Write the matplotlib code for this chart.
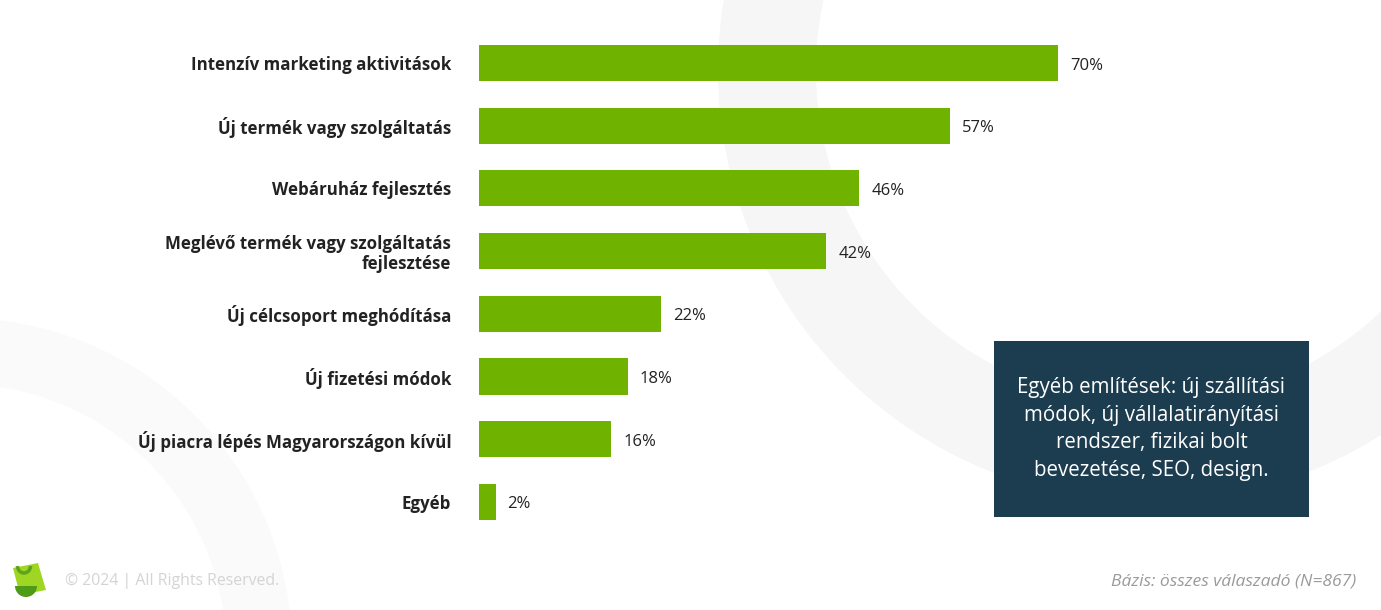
import matplotlib
matplotlib.use("Agg")
import matplotlib.pyplot as plt
from matplotlib.patches import Wedge, Rectangle, Polygon, Arc

# data
categories = [
    "Intenzív marketing aktivitások",
    "Új termék vagy szolgáltatás",
    "Webáruház fejlesztés",
    "Meglévő termék vagy szolgáltatás\nfejlesztése",
    "Új célcsoport meghódítása",
    "Új fizetési módok",
    "Új piacra lépés Magyarországon kívül",
    "Egyéb",
]
values = [70, 57, 46, 42, 22, 18, 16, 2]
box_text = "Egyéb említések: új szállítási\nmódok, új vállalatirányítási\nrendszer, fizikai bolt\nbevezetése, SEO, design."
footer_left = "© 2024 | All Rights Reserved."
footer_right = "Bázis: összes válaszadó (N=867)"

W, H = 1381, 610
green = "#6fb300"
navy = "#1c3d4f"
font = "Open Sans"

fig = plt.figure(figsize=(W / 100, H / 100), dpi=100)
fig.patch.set_facecolor("white")

# background layer in pixel coordinates
bg = fig.add_axes([0, 0, 1, 1], zorder=0)
bg.set_xlim(0, W)
bg.set_ylim(H, 0)
bg.axis("off")
bg.add_patch(Wedge((1150, 70), 432, 0, 360, width=98, color="#f6f6f6", lw=0))
bg.add_patch(Wedge((-40, 650), 332, 0, 360, width=66, color="#fafafa", lw=0))

# note box
bg.add_patch(Rectangle((994, 341), 315, 176, color=navy, lw=0, zorder=3))
bg.text(1151.5, 429, box_text, color="white", fontsize=14.8, family=font,
        ha="center", va="center", linespacing=1.42, zorder=4)

# little logo
bg.add_patch(Arc((24, 566), 13, 14, theta1=0, theta2=180, color="#5fa21c", lw=2.5, zorder=5))
bg.add_patch(Polygon([[13, 568], [38, 563], [46, 590], [20, 595]], closed=True,
                     color="#9fd624", lw=0, zorder=3))
bg.add_patch(Wedge((26, 586), 11, 0, 180, color="#4f9a17", lw=0, zorder=4))

# footer
bg.text(65, 581, footer_left, color="#d4d4d4", fontsize=11.4, family=font, va="center")
bg.text(1356, 581, footer_right, color="#9a9a9a", fontsize=12.6, family=font,
        style="italic", ha="right", va="center")

# bars
px_per_pct = 8.27
pitch = 62.7
ax = fig.add_axes([479 / W, 0, 100 * px_per_pct / W, 1], zorder=2)
ax.patch.set_alpha(0)
ypos = list(range(len(categories)))
ax.barh(ypos, values, height=0.575, color=green)
ax.set_xlim(0, 100)
ax.set_ylim((H - 63) / pitch, -63 / pitch)
for s in ax.spines.values():
    s.set_visible(False)
ax.set_xticks([])
ax.set_yticks(ypos)
ax.set_yticklabels(categories, fontsize=12.2, fontweight="bold", color="#222222",
                   family=font, linespacing=1.15)
ax.tick_params(axis="y", length=0, pad=20)
for y, v in zip(ypos, values):
    ax.text(v + 1.45, y + 0.04, f"{v}%", va="center", ha="left", fontsize=12,
            color="#222222", family=font)

fig.savefig("out.png", dpi=100, facecolor="white")
